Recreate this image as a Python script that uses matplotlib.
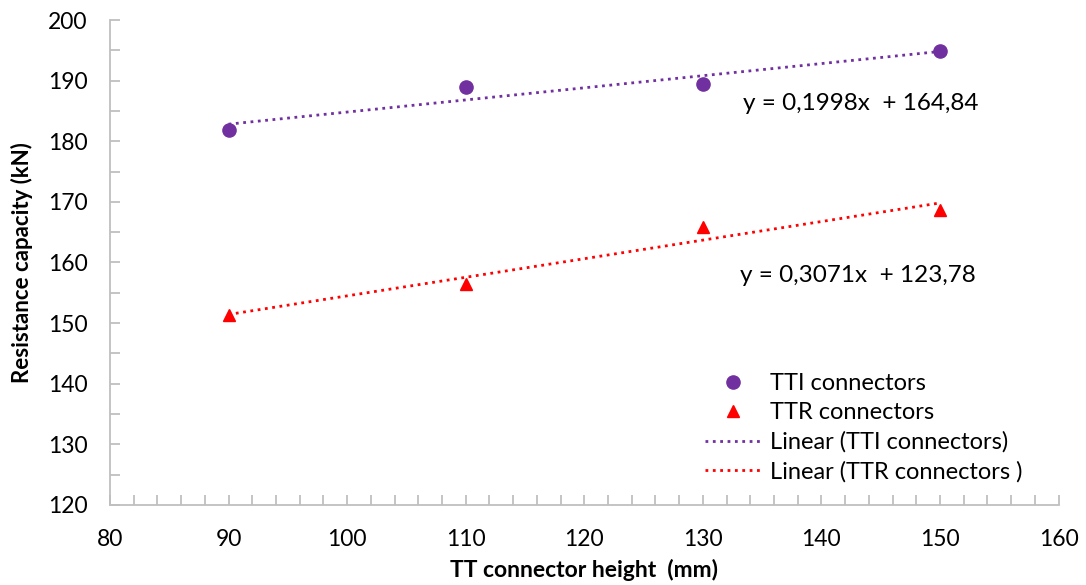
import numpy as np
import matplotlib.pyplot as plt
from matplotlib.ticker import MultipleLocator

plt.rcParams['font.family'] = ['Lato', 'DejaVu Sans']

# datos
altura = [90, 110, 130, 150]
tti = [181.8, 189.0, 189.5, 194.96]
ttr = [151.4, 156.5, 165.9, 168.7]
eq_tti = 'y = 0,1998x  + 164,84'
eq_ttr = 'y = 0,3071x  + 123,78'

morado = '#7030A0'
rojo = '#FF0000'
gris = '#BFBFBF'

fig = plt.figure(figsize=(10.86, 5.85), dpi=100)
ax = fig.add_axes([0.1013, 0.1368, 0.8734, 0.829])

ax.plot(altura, tti, 'o', color=morado, ms=9.5, label='TTI connectors', zorder=3)
ax.plot(altura, ttr, '^', color=rojo, ms=9, label='TTR connectors', zorder=3)

# lineas de tendencia
x = np.array(altura, dtype=float)
m1, b1 = np.polyfit(x, tti, 1)
m2, b2 = np.polyfit(x, ttr, 1)
ax.plot(x, m1*x + b1, ':', color=morado, lw=2, label='Linear (TTI connectors)')
ax.plot(x, m2*x + b2, ':', color=rojo, lw=2, label='Linear (TTR connectors )')

ax.text(143.3, 186.3, eq_tti, ha='center', va='center', fontsize=17.5)
ax.text(143.1, 157.8, eq_ttr, ha='center', va='center', fontsize=17.5)

ax.set_xlim(80, 160)
ax.set_ylim(120, 200)
ax.xaxis.set_major_locator(MultipleLocator(10))
ax.xaxis.set_minor_locator(MultipleLocator(2))
ax.yaxis.set_major_locator(MultipleLocator(10))
ax.yaxis.set_minor_locator(MultipleLocator(5))
ax.tick_params(which='both', direction='in', color=gris, length=7, width=1.3,
               labelsize=16.5)
ax.tick_params(axis='x', pad=17)
ax.tick_params(axis='y', pad=16)

for s in ['top', 'right']:
    ax.spines[s].set_visible(False)
for s in ['left', 'bottom']:
    ax.spines[s].set_color(gris)
    ax.spines[s].set_linewidth(1.3)

ax.set_xlabel('TT connector height  (mm)', fontsize=16.5, fontweight='bold', labelpad=7)
ax.set_ylabel('Resistance capacity (kN)', fontsize=16, fontweight='bold', labelpad=11)

ax.legend(loc='upper left', bbox_to_anchor=(0.617, 0.292), frameon=False,
          fontsize=17, handlelength=2.4, handletextpad=0.35, labelspacing=0.35,
          borderaxespad=0)

plt.savefig('out.png', dpi=100)
